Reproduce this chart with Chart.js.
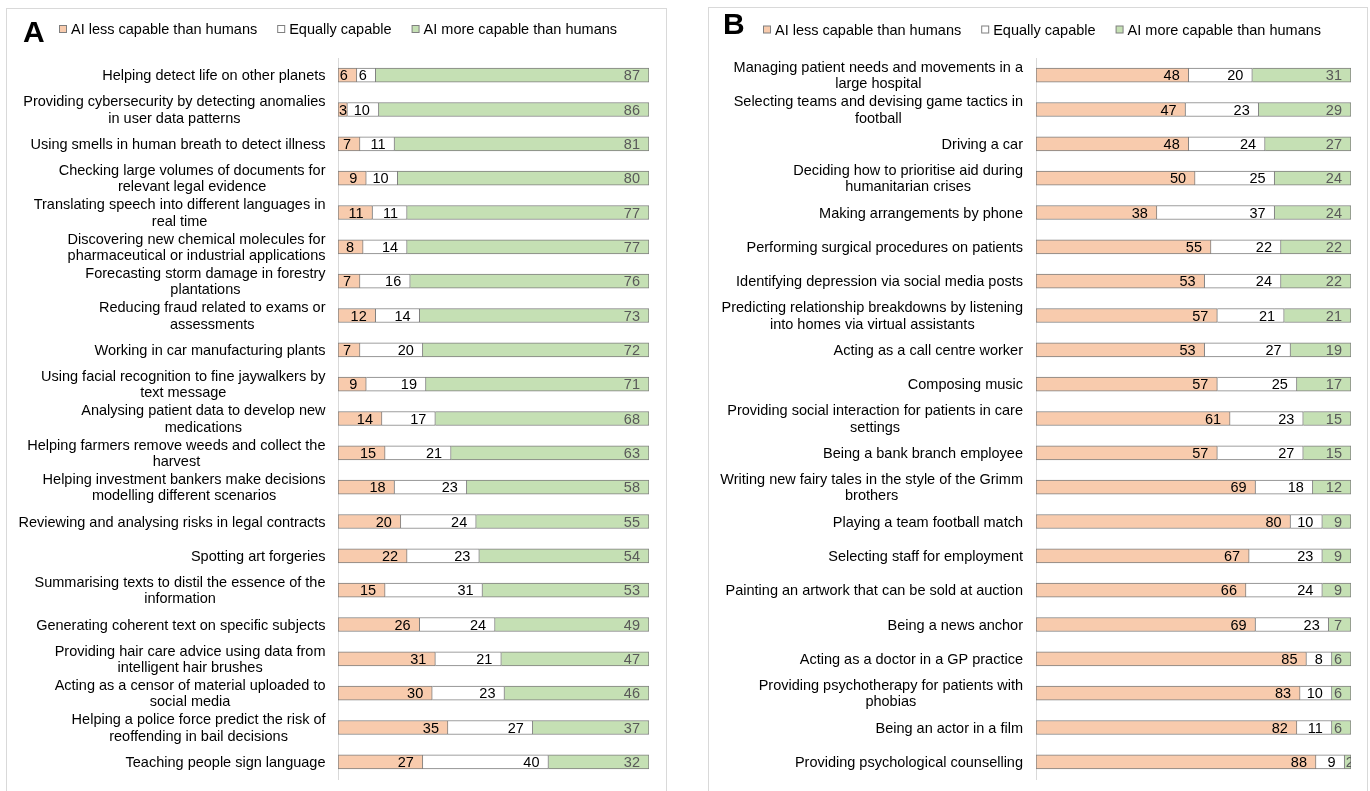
<!DOCTYPE html>
<html><head><meta charset="utf-8">
<script src="https://cdn.jsdelivr.net/npm/chart.js@4.4.0/dist/chart.umd.min.js"></script>
<style>
html,body{margin:0;padding:0;background:#fff;width:1370px;height:791px;overflow:hidden;}
.panel{position:absolute;border:1px solid #d9d9d9;border-bottom:none;background:#fff;}
canvas{display:block;}
</style></head><body>
<div class="panel" style="left:6px;top:8px;width:659px;height:790px;"><canvas id="cA" width="659" height="783"></canvas></div>
<div class="panel" style="left:708px;top:7px;width:658px;height:790px;"><canvas id="cB" width="658" height="784"></canvas></div>
<script>
const seriesNames = ["AI less capable than humans", "Equally capable", "AI more capable than humans"];

const categoriesA = [
  "Helping detect life on other planets",
  ["Providing cybersecurity by detecting anomalies", "in user data patterns"],
  "Using smells in human breath to detect illness",
  ["Checking large volumes of documents for", "relevant legal evidence"],
  ["Translating speech into different languages in", "real time"],
  ["Discovering new chemical molecules for", "pharmaceutical or industrial applications"],
  ["Forecasting storm damage in forestry", "plantations"],
  ["Reducing fraud related to exams or", "assessments"],
  "Working in car manufacturing plants",
  ["Using facial recognition to fine jaywalkers by", "text message"],
  ["Analysing patient data to develop new", "medications"],
  ["Helping farmers remove weeds and collect the", "harvest"],
  ["Helping investment bankers make decisions", "modelling different scenarios"],
  "Reviewing and analysing risks in legal contracts",
  "Spotting art forgeries",
  ["Summarising texts to distil the essence of the", "information"],
  "Generating coherent text on specific subjects",
  ["Providing hair care advice using data from", "intelligent hair brushes"],
  ["Acting as a censor of material uploaded to", "social media"],
  ["Helping a police force predict the risk of", "reoffending in bail decisions"],
  "Teaching people sign language"
];
const lessA  = [6, 3, 7, 9, 11, 8, 7, 12, 7, 9, 14, 15, 18, 20, 22, 15, 26, 31, 30, 35, 27];
const equalA = [6, 10, 11, 10, 11, 14, 16, 14, 20, 19, 17, 21, 23, 24, 23, 31, 24, 21, 23, 27, 40];
const moreA  = [87, 86, 81, 80, 77, 77, 76, 73, 72, 71, 68, 63, 58, 55, 54, 53, 49, 47, 46, 37, 32];

const categoriesB = [
  ["Managing patient needs and movements in a", "large hospital"],
  ["Selecting teams and devising game tactics in", "football"],
  "Driving a car",
  ["Deciding how to prioritise aid during", "humanitarian crises"],
  "Making arrangements by phone",
  "Performing surgical procedures on patients",
  "Identifying depression via social media posts",
  ["Predicting relationship breakdowns by listening", "into homes via virtual assistants"],
  "Acting as a call centre worker",
  "Composing music",
  ["Providing social interaction for patients in care", "settings"],
  "Being a bank branch employee",
  ["Writing new fairy tales in the style of the Grimm", "brothers"],
  "Playing a team football match",
  "Selecting staff for employment",
  "Painting an artwork that can be sold at auction",
  "Being a news anchor",
  "Acting as a doctor in a GP practice",
  ["Providing psychotherapy for patients with", "phobias"],
  "Being an actor in a film",
  "Providing psychological counselling"
];
const lessB  = [48, 47, 48, 50, 38, 55, 53, 57, 53, 57, 61, 57, 69, 80, 67, 66, 69, 85, 83, 82, 88];
const equalB = [20, 23, 24, 25, 37, 22, 24, 21, 27, 25, 23, 27, 18, 10, 23, 24, 23, 8, 10, 11, 9];
const moreB  = [31, 29, 27, 24, 24, 22, 22, 21, 19, 17, 15, 15, 12, 9, 9, 9, 7, 6, 6, 6, 2];

const FILL = ["#F8CBAD", "#FFFFFF", "#C5E0B4"];
const LABEL_COLOR = ["#000000", "#000000", "#595959"];
const EDGE = "#7F7F7F";
const FONT = '"Liberation Sans", Arial, sans-serif';
const FS = '14.5px ';

function build(id, letter, cats, less, equal, more, g) {
  const raws = [less, equal, more];
  const totals = less.map((v, i) => v + equal[i] + more[i]);
  const pct = arr => arr.map((v, i) => v / totals[i] * 100);

  const textPlugin = {
    id: 'panelText' + letter,
    afterDraw(chart) {
      const ctx = chart.ctx;
      const yScale = chart.scales.y;
      const area = chart.chartArea;
      ctx.save();
      // category labels
      ctx.font = FS + FONT;
      ctx.fillStyle = '#000';
      ctx.textBaseline = 'middle';
      ctx.textAlign = 'center';
      const right = area.left - g.labelGap;
      cats.forEach((lab, i) => {
        const lines = Array.isArray(lab) ? lab : [lab];
        const yc = yScale.getPixelForValue(i);
        const lh = 16.5;
        const w = Math.max(...lines.map(l => ctx.measureText(l).width));
        const cx = right - w / 2;
        lines.forEach((l, k) => {
          ctx.fillText(l, cx, yc - (lines.length - 1) * lh / 2 + k * lh + 1);
        });
      });
      // data labels
      ctx.textAlign = 'left';
      for (let d = 0; d < 3; d++) {
        const meta = chart.getDatasetMeta(d);
        meta.data.forEach((el, i) => {
          const p = el.getProps(['x', 'base', 'y', 'height'], true);
          const s = Math.min(p.x, p.base), e = Math.max(p.x, p.base);
          const txt = String(raws[d][i]);
          const tw = ctx.measureText(txt).width;
          const r = Math.max(e - 9, s + tw + 1);
          ctx.save();
          ctx.beginPath();
          ctx.rect(s, p.y - p.height / 2, e - s, p.height);
          ctx.clip();
          ctx.fillStyle = LABEL_COLOR[d];
          ctx.fillText(txt, r - tw, p.y + 1);
          ctx.restore();
        });
      }
      // header letter
      ctx.fillStyle = '#000';
      ctx.textBaseline = 'alphabetic';
      ctx.textAlign = 'left';
      ctx.font = 'bold 30px ' + FONT;
      ctx.fillText(letter, g.letterX, g.letterY);
      // legend
      ctx.font = FS + FONT;
      ctx.textBaseline = 'middle';
      let x = g.legX;
      for (let d = 0; d < 3; d++) {
        ctx.fillStyle = EDGE;
        ctx.fillRect(x, g.legY - 4, 8, 8);
        ctx.fillStyle = FILL[d];
        ctx.fillRect(x + 1, g.legY - 3, 6, 6);
        ctx.fillStyle = '#000';
        ctx.fillText(seriesNames[d], x + 12, g.legY + 1);
        x += 12 + ctx.measureText(seriesNames[d]).width + 20;
      }
      ctx.restore();
    }
  };

  return new Chart(document.getElementById(id), {
    type: 'bar',
    data: {
      labels: cats,
      datasets: [0, 1, 2].map(d => ({
        label: seriesNames[d],
        data: pct(raws[d]),
        backgroundColor: FILL[d],
        borderColor: EDGE,
        borderWidth: 1,
        borderSkipped: d === 0 ? false : 'start',
        barThickness: 14
      }))
    },
    options: {
      indexAxis: 'y',
      responsive: false,
      animation: false,
      devicePixelRatio: 1,
      layout: { padding: { left: 0, right: g.padR, top: g.padT, bottom: g.padB } },
      plugins: { legend: { display: false }, tooltip: { enabled: false }, title: { display: false } },
      scales: {
        x: { stacked: true, min: 0, max: 100, display: false },
        y: {
          stacked: true,
          grid: { display: false },
          border: { display: true, color: '#D9D9D9', width: 1 },
          ticks: { display: false },
          afterFit(s) { s.width = g.axisW; }
        }
      }
    },
    plugins: [textPlugin]
  });
}

build('cA', 'A', categoriesA, lessA, equalA, moreA,
  { padR: 17, padT: 49, padB: 13, axisW: 331, labelGap: 12.5, letterX: 16, letterY: 33, legX: 52, legY: 20 });
build('cB', 'B', categoriesB, lessB, equalB, moreB,
  { padR: 16, padT: 50, padB: 13, axisW: 327, labelGap: 13, letterX: 14, letterY: 26, legX: 54, legY: 21.5 });
</script>
</body></html>
